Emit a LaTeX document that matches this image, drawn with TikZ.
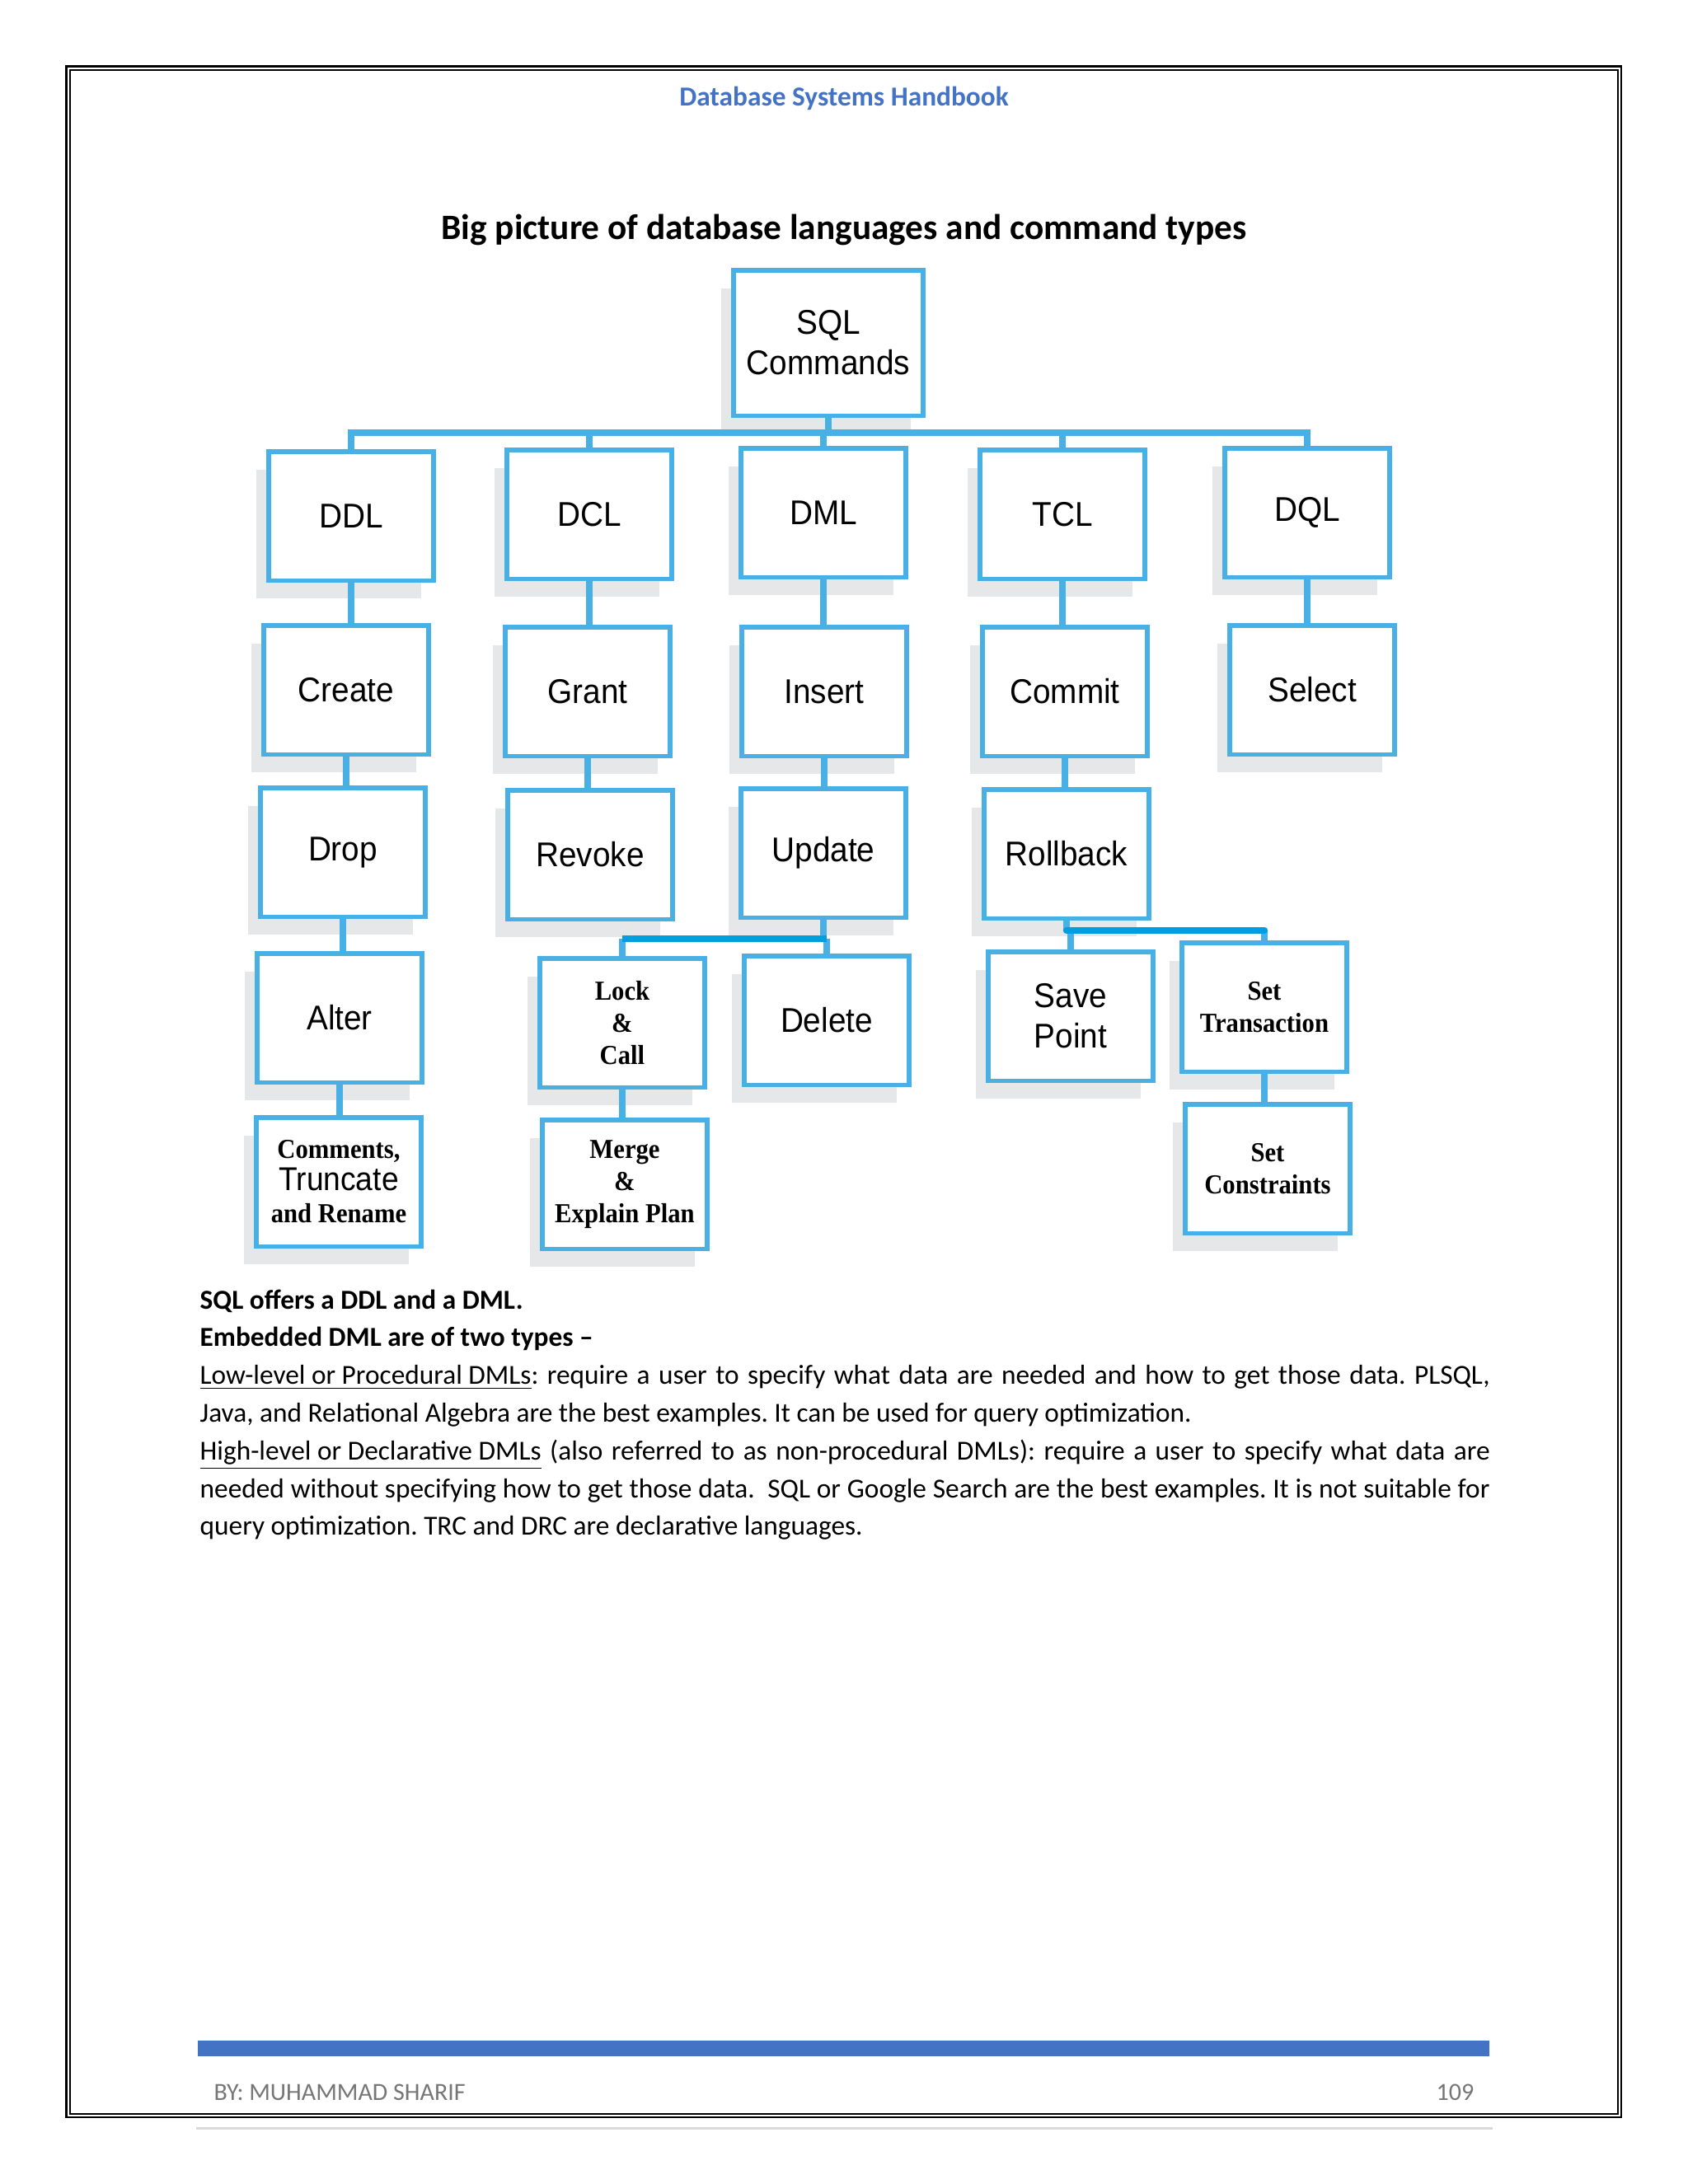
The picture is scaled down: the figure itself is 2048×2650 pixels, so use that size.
\documentclass[tikz,border=0pt]{standalone}
\usepackage{fontspec}
\setmainfont{Carlito}
\newfontfamily\boxsans[FakeStretch=0.93]{Liberation Sans}
\newfontfamily\boxserif[FakeStretch=0.92]{Liberation Serif}
\usetikzlibrary{shadows,positioning}
\definecolor{boxblue}{RGB}{72,176,228}
\definecolor{busblue}{RGB}{0,158,224}
\definecolor{shade}{RGB}{230,231,232}
\definecolor{headblue}{RGB}{68,114,196}
\definecolor{footgrey}{RGB}{118,118,118}
\definecolor{rulegrey}{RGB}{217,217,217}
\tikzset{
  cmd/.style={draw=boxblue, line width=1.7pt, fill=white, minimum width=60pt,
    minimum height=47pt, inner sep=1pt, align=center,
    font=\boxsans\fontsize{12.5}{14.7}\selectfont,
    drop shadow={shadow xshift=-4.5pt, shadow yshift=-6.6pt, fill=shade, opacity=1}},
  cmdserif/.style={cmd, font=\boxserif\bfseries\fontsize{10}{11.7}\selectfont},
  link/.style={draw=boxblue, line width=2.5pt},
  bus/.style={draw=busblue, line width=2.5pt},
}

\begin{document}
\begin{tikzpicture}[x=0.3pt, y=-0.3pt]
 \useasboundingbox (0,0) rectangle (2048,2650);
 % page frame
 \draw[line width=0.75pt] (80.5,80.5) rectangle (1967,2569);
 \draw[line width=0.36pt] (85,85) rectangle (1963,2565);
 \draw[rulegrey, line width=0.9pt] (238,2582) -- (1811,2582);
 \node[anchor=base, text=headblue, font=\bfseries\fontsize{10}{12}\selectfont] (header) at (1024,128) {Database Systems Handbook};
 \node[anchor=base, font=\bfseries\fontsize{13}{15}\selectfont] (title) at (1024,290) {Big picture of database languages and command types};
 %
 \node[cmd, minimum width=69pt, minimum height=53pt] (sql) at (1005,416) {SQL\\Commands};
 \node[cmd] (ddl) at (426,626) {DDL};
 \node[cmd] (dcl) at (715,624) {DCL};
 \node[cmd] (dml) at (999,622) {DML};
 \node[cmd] (tcl) at (1289,624) {TCL};
 \node[cmd] (dql) at (1586,622) {DQL};
 \node[cmd] (create) at (420,837) {Create};
 \node[cmd] (grant) at (713,839) {Grant};
 \node[cmd] (insert) at (1000,839) {Insert};
 \node[cmd] (commit) at (1292,839) {Commit};
 \node[cmd] (select) at (1592,837) {Select};
 \node[cmd] (drop) at (416,1034) {Drop};
 \node[cmd] (revoke) at (716,1037) {Revoke};
 \node[cmd] (update) at (999,1035) {Update};
 \node[cmd] (rollback) at (1294,1036) {Rollback};
 \node[cmd] (alter) at (412,1235) {Alter};
 \node[cmdserif] (lockcall) at (755,1241) {Lock\\\&\\Call};
 \node[cmd] (delete) at (1003,1238) {Delete};
 \node[cmd] (savepoint) at (1299,1233) {Save\\Point};
 \node[cmdserif] (settrans) at (1534,1222) {Set\\Transaction};
 \node[cmdserif] (comments) at (411,1434) {Comments,\\{\boxsans\mdseries\fontsize{12}{13}\selectfont Truncate}\\and Rename};
 \node[cmdserif] (merge) at (758,1437) {Merge\\\&\\Explain Plan};
 \node[cmdserif] (setconstr) at (1538,1418) {Set\\Constraints};
 %
 \coordinate (bus) at (1005,525);
 \coordinate (ubus) at (880,1139);
 \coordinate (tbus) at (1400,1129);
 \draw[link] (sql.south) -- (bus);
 \draw[link] (ddl.north) -- (ddl.north |- bus) -- (dql.north |- bus) -- (dql.north);
 \foreach \n in {dcl,dml,tcl}
   \draw[link] (\n.north |- bus) -- (\n.north);
 \foreach \a/\b in {ddl/create, create/drop, drop/alter, alter/comments,
   dcl/grant, grant/revoke, dml/insert, insert/update, tcl/commit,
   commit/rollback, dql/select, lockcall/merge, settrans/setconstr}
   \draw[link] (\a.south) -- (\a.south |- \b.north);
 \draw[link] (update.south) -- (update.south |- ubus);
 \draw[link] (lockcall.north |- ubus) -- (lockcall.north);
 \draw[link] (delete.north |- ubus) -- (delete.north);
 \draw[bus] (lockcall.north |- ubus) -- (delete.north |- ubus);
 \draw[link] (rollback.south) -- (rollback.south |- tbus);
 \draw[link] (savepoint.north |- tbus) -- (savepoint.north);
 \draw[link] (settrans.north |- tbus) -- (settrans.north);
 \draw[bus, line cap=round] (rollback.south |- tbus) -- (settrans.north |- tbus);
 %
 \node[anchor=base west, inner sep=0pt, text width=469.5pt, align=justify, font=\fontsize{10}{13.74}\selectfont] (notes) at (242,1588) {%
  \frenchspacing\hyphenpenalty=10000
  \textbf{SQL offers a DDL and a DML.}\par
  \textbf{Embedded DML are of two types –}\par
  \underline{Low-level or Procedural DMLs}: require a user to specify what data are needed and how to get those data. PLSQL,\linebreak
  Java, and Relational Algebra are the best examples. It can be used for query optimization.\par
  \underline{High-level or Declarative DMLs} (also referred to as non-procedural DMLs): require a user to specify what data are\linebreak
  needed without specifying how to get those data.\ \ SQL or Google Search are the best examples. It is not suitable for\linebreak
  query optimization. TRC and DRC are declarative languages.};
 % footer
 \fill[headblue] (240,2476) rectangle (1807,2495);
 \node[anchor=base west, inner sep=0pt, text=footgrey, font=\fontsize{9}{11}\selectfont] (author) at (259,2548) {BY: MUHAMMAD SHARIF};
 \node[anchor=base east, inner sep=0pt, text=footgrey, font=\fontsize{9}{11}\selectfont] (pageno) at (1789,2548) {109};
\end{tikzpicture}
\end{document}
